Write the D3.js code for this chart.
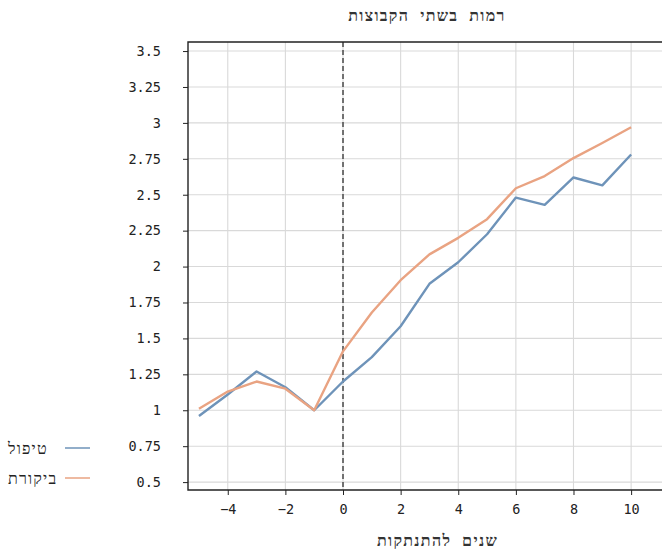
<!DOCTYPE html>
<html><head><meta charset="utf-8">
<script src="https://cdn.jsdelivr.net/npm/d3@7"></script>
<style>
body{margin:0;background:#fff;}
text{font-family:"DejaVu Sans Mono",monospace;}
</style></head>
<body>
<svg id="c" width="662" height="557"></svg>
<script>
const years = [-5,-4,-3,-2,-1,0,1,2,3,4,5,6,7,8,9,10];
const treatment = [0.96,1.11,1.27,1.16,1.0,1.20,1.37,1.585,1.88,2.03,2.225,2.48,2.43,2.62,2.565,2.78];
const control = [1.01,1.13,1.20,1.15,1.0,1.41,1.68,1.905,2.085,2.20,2.33,2.545,2.63,2.755,2.86,2.97];
const seriesNames = ["טיפול","ביקורת"];
const seriesColors = ["#6e93b9","#e9a382"];
const yTicks = [0.5,0.75,1,1.25,1.5,1.75,2,2.25,2.5,2.75,3,3.25,3.5];
const xTicks = [-4,-2,0,2,4,6,8,10];
const title = "רמות בשתי הקבוצות";
const xTitle = "שנים להתנתקות";

const FONT = "DejaVu Sans Mono";
const HFONT = "DejaVu Sans";
const svg = d3.select("#c");
const L=188, R=668, T=42, B=490;
const x = d3.scaleLinear().domain([-5.38, 11.28]).range([L, R]);
const y = d3.scaleLinear().domain([0.445, 3.563]).range([B, T]);

// grid
svg.append("g").selectAll("line").data(xTicks).join("line")
  .attr("x1",d=>x(d)).attr("x2",d=>x(d)).attr("y1",T).attr("y2",B)
  .attr("stroke","#d9d9d9").attr("stroke-width",1.1);
svg.append("g").selectAll("line").data(yTicks).join("line")
  .attr("x1",L).attr("x2",R).attr("y1",d=>y(d)).attr("y2",d=>y(d))
  .attr("stroke","#d9d9d9").attr("stroke-width",1.1);

// dashed zero line
svg.append("line").attr("x1",x(0)).attr("x2",x(0)).attr("y1",T).attr("y2",B)
  .attr("stroke","#222").attr("stroke-width",1.2).attr("stroke-dasharray","5,3");

// lines
const data = [treatment, control];
const line = d3.line().x((d,i)=>x(years[i])).y(d=>y(d));
data.forEach((s,k)=>{
  svg.append("path").datum(s).attr("d",line).attr("fill","none")
    .attr("stroke",seriesColors[k]).attr("stroke-width",2.4).attr("stroke-linejoin","round");
});

// frame (left, top, bottom)
svg.append("path").attr("d",`M${R},${T}H${L}V${B}H${R}`).attr("fill","none")
  .attr("stroke","#222").attr("stroke-width",1.4);

// axes
const xAxis = d3.axisBottom(x).tickValues(xTicks).tickSize(5).tickPadding(9)
  .tickFormat(d=>d<0?"\u2212"+Math.abs(d):String(d));
const gx = svg.append("g").attr("transform",`translate(0,${B})`).call(xAxis);
gx.select(".domain").remove();
gx.selectAll("line").attr("stroke","#222");
gx.selectAll("text").attr("font-size",13.5).attr("fill","#222").attr("font-family",FONT);

const yAxis = d3.axisLeft(y).tickValues(yTicks).tickSize(5).tickPadding(22)
  .tickFormat(d=>String(d));
const gy = svg.append("g").attr("transform",`translate(${L},0)`).call(yAxis);
gy.select(".domain").remove();
gy.selectAll("line").attr("stroke","#222");
gy.selectAll("text").attr("font-size",13.5).attr("fill","#222").attr("font-family",FONT);

// titles
svg.append("text").attr("x",427).attr("y",21).attr("text-anchor","middle")
  .attr("font-family",HFONT).attr("font-size",16).attr("font-weight","bold")
  .attr("letter-spacing",1.3).attr("fill","#333").text(title);
svg.append("text").attr("x",437.5).attr("y",546).attr("text-anchor","middle")
  .attr("font-family",HFONT).attr("font-size",16).attr("font-weight","bold")
  .attr("letter-spacing",1.3).attr("fill","#333").text(xTitle);

// legend
const lg = svg.append("g");
seriesNames.forEach((n,k)=>{
  const yy = 448 + k*30;
  lg.append("line").attr("x1",65).attr("x2",90).attr("y1",yy).attr("y2",yy)
    .attr("stroke",seriesColors[k]).attr("stroke-width",1.5);
  lg.append("text").attr("x",8).attr("y",yy+6).attr("text-anchor","start")
    .attr("font-family",HFONT).attr("font-size",16).attr("letter-spacing",1.2)
    .attr("fill","#222").text(n);
});
</script>
</body></html>
